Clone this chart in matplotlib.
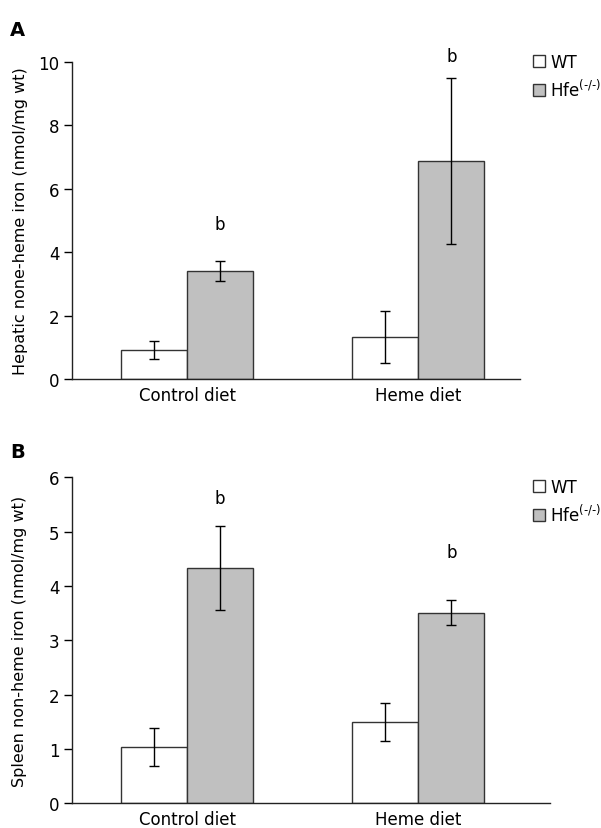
import matplotlib
matplotlib.use("Agg")
import matplotlib.pyplot as plt
from matplotlib.patches import Patch
import numpy as np

plt.rcParams['font.family'] = ['DejaVu Sans']

categories = ["Control diet", "Heme diet"]
series_names = ["WT", "Hfe$^{\\mathregular{(\u2010/\u2010)}}$"]

# Panel A: hepatic non-heme iron
a_wt = [0.91, 1.31]
a_wt_err = [0.29, 0.82]
a_hfe = [3.41, 6.88]
a_hfe_err = [0.31, 2.62]
a_sig_y = [4.9, 10.2]

# Panel B: spleen non-heme iron
b_wt = [1.03, 1.50]
b_wt_err = [0.35, 0.35]
b_hfe = [4.33, 3.51]
b_hfe_err = [0.77, 0.23]
b_sig_y = [5.62, 4.63]

W, H = 601, 829
fig = plt.figure(figsize=(W/100, H/100), dpi=100)

wt_color = "white"
hfe_color = "#c0c0c0"
edge = "#333333"
fs = 12

def panel(ax, wt, wt_err, hfe, hfe_err, sig_y, ymax, yticks, ylabel, xmax, leg_y, label_x):
    x = np.arange(len(categories))
    bw = 0.286
    ax.bar(x - bw/2, wt, bw, color=wt_color, edgecolor=edge, linewidth=1.0, zorder=2)
    ax.bar(x + bw/2, hfe, bw, color=hfe_color, edgecolor=edge, linewidth=1.0, zorder=2)
    ax.errorbar(x - bw/2, wt, yerr=wt_err, fmt='none', ecolor='black', elinewidth=1.0, capsize=3.5, capthick=1.0, zorder=3)
    ax.errorbar(x + bw/2, hfe, yerr=hfe_err, fmt='none', ecolor='black', elinewidth=1.0, capsize=3.5, capthick=1.0, zorder=3)
    for xi, sy in zip(x, sig_y):
        ax.text(xi + bw/2, sy, "b", ha='center', va='center', fontsize=fs, clip_on=False)
    ax.set_xlim(-0.498, xmax)
    ax.set_ylim(0, ymax)
    ax.set_yticks(yticks)
    ax.set_xticks(x)
    ax.set_xticklabels(categories)
    ax.tick_params(axis='y', length=6, width=1, labelsize=fs, direction='out', pad=3)
    ax.tick_params(axis='x', length=0, labelsize=fs, pad=5)
    ax.spines['top'].set_visible(False)
    ax.spines['right'].set_visible(False)
    for s in ('left', 'bottom'):
        ax.spines[s].set_linewidth(1)
        ax.spines[s].set_color('#222222')
    ax.set_ylabel(ylabel, fontsize=11.5, va='center')
    ax.yaxis.set_label_coords(label_x, 0.5)
    handles = [Patch(facecolor=wt_color, edgecolor=edge, linewidth=1.0),
               Patch(facecolor=hfe_color, edgecolor=edge, linewidth=1.0)]
    fig.legend(handles, series_names, loc='upper left',
               bbox_to_anchor=(533/W, 1 - leg_y/H), frameon=False,
               handlelength=0.7, handleheight=0.7, handletextpad=0.35,
               labelspacing=0.45, fontsize=fs, borderpad=0, borderaxespad=0)
    return ax

axA = fig.add_axes([72/W, (H-380)/H, (520-72)/W, (380-63)/H])
panel(axA, a_wt, a_wt_err, a_hfe, a_hfe_err, a_sig_y, 10, [0, 2, 4, 6, 8, 10],
      "Hepatic none-heme iron (nmol/mg wt)", 1.44, 54, (21-72)/448)
fig.text(10/W, 1 - 31/H, "A", fontsize=14, fontweight='bold', va='center', ha='left')

axB = fig.add_axes([72/W, (H-804.3)/H, (550-72)/W, (804.3-478.3)/H])
panel(axB, b_wt, b_wt_err, b_hfe, b_hfe_err, b_sig_y, 6, [0, 1, 2, 3, 4, 5, 6],
      "Spleen non-heme iron (nmol/mg wt)", 1.57, 479, (20-72)/478)
fig.text(10/W, 1 - 453/H, "B", fontsize=14, fontweight='bold', va='center', ha='left')

fig.savefig("out.png", dpi=100)
